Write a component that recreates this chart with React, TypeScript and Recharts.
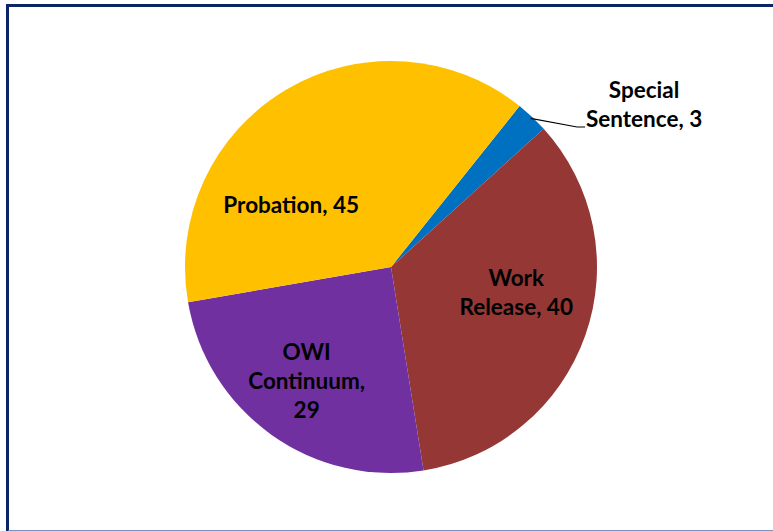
import { PieChart, Pie, Cell } from "recharts";

const CATEGORIES = ["Special Sentence", "Work Release", "OWI Continuum", "Probation"];
const VALUES = [3, 40, 29, 45];
const COLORS = ["#0070C0", "#953735", "#7030A0", "#FFC000"];

// label lines as drawn, plus where each label block sits (deg clockwise from top, fraction of radius)
const LABEL_LINES: Record<string, string[]> = {
  "Special Sentence": ["Special", "Sentence, 3"],
  "Work Release": ["Work", "Release, 40"],
  "OWI Continuum": ["OWI", "Continuum,", "29"],
  Probation: ["Probation, 45"],
};
const LABEL_PLACE: Record<string, { angle: number; r: number }> = {
  "Special Sentence": { angle: 57.3, r: 1.46 },
  "Work Release": { angle: 101.3, r: 0.62 },
  "OWI Continuum": { angle: 216.4, r: 0.69 },
  Probation: { angle: 301.8, r: 0.57 },
};

const data = CATEGORIES.map((name, i) => ({ name, value: VALUES[i] }));

const RAD = Math.PI / 180;
const LINE_H = 29;

const renderLabel = (props: any) => {
  const { cx, cy, outerRadius, name, midAngle } = props;
  const place = LABEL_PLACE[name];
  const lines = LABEL_LINES[name];
  const a = place.angle * RAD;
  const x = cx + Math.sin(a) * outerRadius * place.r;
  const y = cy - Math.cos(a) * outerRadius * place.r;
  const top = y - ((lines.length - 1) * LINE_H) / 2;
  let leader = null;
  if (place.r > 1) {
    const m = -midAngle * RAD;
    const sx = cx + Math.cos(m) * outerRadius * 0.99;
    const sy = cy + Math.sin(m) * outerRadius * 0.99;
    const ex = x - 67;
    const ey = top + LINE_H + 8;
    leader = (
      <polyline
        points={`${sx},${sy} ${ex},${ey} ${ex + 8},${ey}`}
        fill="none"
        stroke="#000"
        strokeWidth={1.2}
      />
    );
  }
  return (
    <g>
      {leader}
      <text
        x={x}
        y={top}
        textAnchor="middle"
        fontFamily="Lato, 'Open Sans', sans-serif"
        fontWeight={700}
        fontSize={22.5}
        fill="#000"
      >
        {lines.map((l, i) => (
          <tspan key={i} x={x} dy={i === 0 ? 8 : LINE_H}>
            {l}
          </tspan>
        ))}
      </text>
    </g>
  );
};

export default function App() {
  return (
    <div
      style={{
        position: "fixed",
        left: 0,
        top: 0,
        width: 773,
        height: 531,
        overflow: "hidden",
        background: "#fff",
      }}
    >
      <PieChart width={773} height={531} margin={{ top: 0, right: 0, bottom: 0, left: 0 }}>
        <Pie
          data={data}
          dataKey="value"
          nameKey="name"
          cx={391}
          cy={267}
          outerRadius={206}
          startAngle={51.4}
          endAngle={-308.6}
          stroke="none"
          label={renderLabel}
          labelLine={false}
          isAnimationActive={false}
        >
          {data.map((d, i) => (
            <Cell key={d.name} fill={COLORS[i]} />
          ))}
        </Pie>
      </PieChart>
      <div
        style={{
          position: "absolute",
          left: 6,
          top: 4,
          width: 800,
          height: 528,
          borderTop: "3px solid #0B2566",
          borderLeft: "3px solid #0B2566",
          borderBottom: "2px solid #7F8FBF",
          boxSizing: "border-box",
          pointerEvents: "none",
        }}
      />
    </div>
  );
}
